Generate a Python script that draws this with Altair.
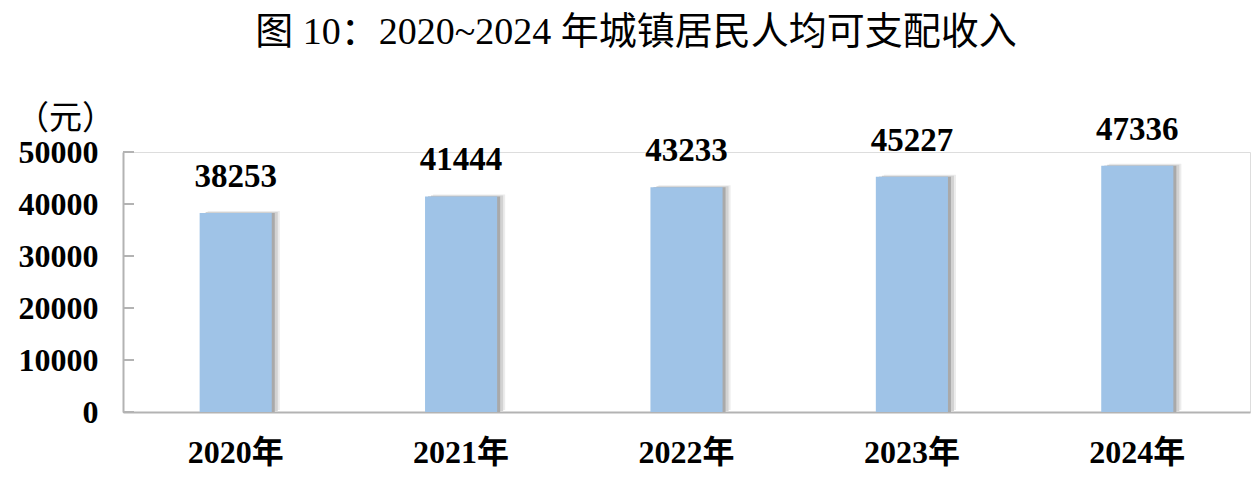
import altair as alt
import pandas as pd

years = ["2020年", "2021年", "2022年", "2023年", "2024年"]
income = [38253, 41444, 43233, 45227, 47336]
y_ticks = [0, 10000, 20000, 30000, 40000, 50000]
title_text = ["图 10：2020~2024 年城镇居民人均可支配收入"]

df = pd.DataFrame({"year": years, "income": income})
ticks_df = pd.DataFrame({"v": y_ticks})
title_df = pd.DataFrame({"t": title_text})

SERIF = "Liberation Serif, Noto Sans CJK SC"
AXIS_GRAY = "#b3b3b3"

x_enc = alt.X(
    "year:N",
    sort=years,
    scale=alt.Scale(paddingInner=0.68, paddingOuter=0.34),
    axis=alt.Axis(
        title=None,
        labelAngle=0,
        ticks=False,
        domainColor=AXIS_GRAY,
        domainWidth=2,
        labelFont=SERIF,
        labelFontSize=32,
        labelFontWeight="bold",
        labelColor="#000000",
        labelPadding=25,
    ),
)
y_enc = alt.Y(
    "income:Q",
    scale=alt.Scale(domain=[0, 50000], nice=False),
    axis=alt.Axis(
        values=y_ticks,
        format="d",
        grid=False,
        ticks=False,
        domainColor=AXIS_GRAY,
        domainWidth=2,
        labelFont=SERIF,
        labelFontSize=32,
        labelFontWeight="bold",
        labelColor="#000000",
        labelPadding=25,
        title="（元）",
        titleAngle=0,
        titleX=-58,
        titleY=-34,
        titleAlign="center",
        titleBaseline="middle",
        titleFont=SERIF,
        titleFontSize=33,
        titleFontWeight="normal",
        titleColor="#000000",
    ),
)

base = alt.Chart(df)

shadow3 = base.mark_bar(color="#ececec", xOffset=8, yOffset=-2).encode(x=x_enc, y=y_enc)
shadow2 = base.mark_bar(color="#d2d2d2", xOffset=6, yOffset=-1).encode(x=x_enc, y=y_enc)
shadow1 = base.mark_bar(color="#a9a9a9", xOffset=3).encode(x=x_enc, y=y_enc)
bars = base.mark_bar(color="#9FC3E7").encode(x=x_enc, y=y_enc)
labels = base.mark_text(
    baseline="alphabetic", dy=-26, font=SERIF, fontSize=33, fontWeight="bold", color="#000000"
).encode(x=x_enc, y=y_enc, text=alt.Text("income:Q", format="d"))

tick_marks = alt.Chart(ticks_df).mark_rule(color=AXIS_GRAY, strokeWidth=2).encode(
    y=alt.Y("v:Q", scale=alt.Scale(domain=[0, 50000], nice=False)),
    x=alt.value(0),
    x2=alt.value(11),
)

title_mark = alt.Chart(title_df).mark_text(
    font=SERIF, fontSize=38, fontWeight="normal", color="#000000",
    align="center", baseline="alphabetic",
).encode(text="t:N", x=alt.value(513), y=alt.value(-108))

chart = (
    alt.layer(shadow3, shadow2, shadow1, bars, labels, tick_marks, title_mark)
    .properties(
        width=1127,
        height=260,
        padding={"left": 115, "top": 144, "right": 2, "bottom": 57},
        autosize=alt.AutoSizeParams(type="none"),
    )
    .configure_view(stroke="transparent", strokeWidth=0)
    .configure(background="#ffffff")
)

chart.save("out.html", embed_options={"renderer": "svg", "actions": False})
